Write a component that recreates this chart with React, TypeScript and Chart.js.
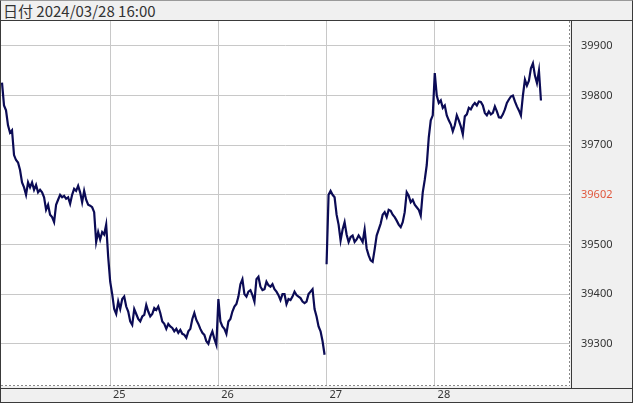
import React, { useEffect, useRef } from 'react';
import { Chart, registerables } from 'chart.js';

Chart.register(...registerables);

// Price samples (evenly spaced bars), one array per trading session
const fri22 = [
  39826, 39780, 39770, 39740, 39725, 39730, 39680, 39670, 39665, 39650,
  39625, 39615, 39600, 39625, 39615, 39625, 39610, 39620, 39605, 39610,
  39605, 39595, 39570, 39580, 39560, 39555, 39545, 39580, 39590, 39600,
  39595, 39598, 39592, 39595, 39582, 39600, 39612, 39608, 39618, 39605,
  39585, 39608, 39590, 39580, 39578, 39575, 39565, 39505, 39525, 39510,
  39525, 39520, 39540, 39475,
];
const mon25 = [
  39425, 39400, 39370, 39360, 39385, 39370, 39390, 39395, 39375, 39365,
  39345, 39338, 39370, 39360, 39350, 39345, 39355, 39358, 39378, 39365,
  39355, 39360, 39372, 39368, 39375, 39362, 39345, 39340, 39330, 39340,
  39335, 39332, 39325, 39330, 39322, 39328, 39320, 39318, 39312, 39325,
  39330, 39350, 39362, 39348, 39340, 39330, 39322, 39318, 39305, 39300,
  39315, 39325, 39310, 39298,
];
const tue26 = [
  39390, 39345, 39335, 39330, 39320, 39345, 39350, 39365, 39375, 39380,
  39395, 39420, 39430, 39400, 39395, 39405, 39408, 39398, 39385, 39430,
  39435, 39415, 39408, 39410, 39425, 39418, 39415, 39420, 39410, 39405,
  39398, 39388, 39400, 39400, 39380, 39390, 39388, 39395, 39405, 39398,
  39395, 39392, 39385, 39382, 39385, 39400, 39405, 39410, 39370, 39355,
  39335, 39325, 39305, 39278,
];
const wed27 = [
  39460, 39600, 39608, 39600, 39595, 39560, 39540, 39508, 39530, 39545,
  39520, 39505, 39515, 39518, 39505, 39510, 39518, 39512, 39505, 39530,
  39492, 39478, 39468, 39465, 39490, 39518, 39530, 39542, 39560, 39565,
  39555, 39570, 39568, 39560, 39555, 39548, 39540, 39535, 39545, 39565,
  39605, 39598, 39585, 39590, 39580, 39575, 39570, 39558, 39605, 39630,
  39660, 39715, 39750, 39760,
];
const thu28 = [
  39845, 39800, 39785, 39790, 39775, 39780, 39760, 39750, 39742, 39728,
  39740, 39760, 39750, 39738, 39722, 39758, 39762, 39775, 39772, 39780,
  39785, 39780, 39788, 39787, 39780, 39765, 39760, 39768, 39762, 39765,
  39778, 39768, 39756, 39755, 39762, 39772, 39785, 39792, 39798, 39800,
  39788, 39778, 39770, 39760, 39800, 39832, 39820, 39830, 39855, 39865,
  39840, 39825, 39850, 39790,
];

const dayLabels = ['25', '26', '27', '28'];
const yTicks = [39300, 39400, 39500, 39600, 39700, 39800, 39900];
const markedTick = 39600;
const markedLabel = '39602';
const headerText = '日付 2024/03/28 16:00';

const sessions = [fri22, mon25, tue26, wed27, thu28];

export default function App() {
  const ref = useRef<HTMLCanvasElement | null>(null);

  useEffect(() => {
    if (!ref.current) return;
    const dayStarts: number[] = [];
    const datasets: any[] = [];
    let k = 0;
    sessions.forEach((s, i) => {
      if (i > 0) dayStarts.push(k);
      const pts: { x: number; y: number }[] = [];
      s.forEach((v) => pts.push({ x: k++, y: v }));
      // Wednesday opened with a gap: draw it as its own stroke
      const joinPrev = i > 0 && i !== 3;
      if (joinPrev) {
        const prev = datasets[datasets.length - 1].data;
        datasets[datasets.length - 1].data = prev.concat(pts);
      } else {
        datasets.push({
          data: pts,
          borderColor: '#0b0b55',
          borderWidth: 2.2,
          pointRadius: 0,
          tension: 0,
        });
      }
    });

    const framePlugin = {
      id: 'frame',
      beforeDraw(chart: any) {
        const { ctx, chartArea: ca } = chart;
        ctx.save();
        ctx.fillStyle = '#ffffff';
        ctx.fillRect(ca.left, ca.top, ca.right - ca.left, ca.bottom - ca.top);
        ctx.restore();
      },
      afterDraw(chart: any) {
        const { ctx, chartArea: ca, width } = chart;
        ctx.save();
        ctx.lineWidth = 1;
        ctx.strokeStyle = '#8a8a8a';
        ctx.setLineDash([2, 2]);
        ctx.beginPath();
        ctx.moveTo(ca.right - 0.5, ca.top);
        ctx.lineTo(ca.right - 0.5, ca.bottom);
        ctx.moveTo(ca.left, ca.bottom - 0.5);
        ctx.lineTo(ca.right, ca.bottom - 0.5);
        ctx.stroke();
        ctx.setLineDash([]);
        ctx.strokeStyle = '#3a3a3a';
        ctx.beginPath();
        ctx.moveTo(ca.right + 1.5, 0);
        ctx.lineTo(ca.right + 1.5, ca.bottom + 2);
        ctx.moveTo(0, ca.bottom + 2.5);
        ctx.lineTo(width, ca.bottom + 2.5);
        ctx.stroke();
        ctx.restore();
      },
    };

    const chart = new Chart(ref.current, {
      type: 'line',
      data: { datasets },
      options: {
        animation: false,
        responsive: false,
        parsing: false as any,
        layout: { padding: 0 },
        plugins: {
          legend: { display: false },
          tooltip: { enabled: false },
        },
        scales: {
          x: {
            type: 'linear',
            min: -0.5,
            max: 283.5,
            afterBuildTicks: (scale: any) => {
              scale.ticks = dayStarts.map((v) => ({ value: v }));
            },
            afterFit: (scale: any) => {
              scale.height = 16;
              scale.paddingLeft = 0;
              scale.paddingRight = 0;
            },
            grid: { color: '#c8c8c8', drawTicks: false },
            border: { display: false },
            ticks: {
              align: 'start',
              padding: 2,
              autoSkip: false,
              maxRotation: 0,
              color: '#333333',
              font: { family: 'Noto Sans', size: 11 },
              callback: (v: any) => {
                const i = dayStarts.indexOf(Number(v));
                return i >= 0 ? ' ' + dayLabels[i] : '';
              },
            },
          },
          y: {
            type: 'linear',
            position: 'right',
            min: 39215,
            max: 39950,
            afterBuildTicks: (scale: any) => {
              scale.ticks = yTicks.map((v) => ({ value: v }));
            },
            afterFit: (scale: any) => {
              scale.width = 62;
              scale.paddingTop = 0;
              scale.paddingBottom = 0;
            },
            grid: { color: '#c8c8c8', drawTicks: false },
            border: { display: false },
            ticks: {
              padding: 11,
              color: (c: any) => (c.tick && c.tick.value === markedTick ? '#e0573d' : '#333333'),
              font: { family: 'Noto Sans', size: 11 },
              callback: (v: any) => (Number(v) === markedTick ? markedLabel : String(v)),
            },
          },
        },
      },
      plugins: [framePlugin],
    });
    return () => chart.destroy();
  }, []);

  return (
    <div
      style={{
        position: 'absolute',
        left: 0,
        top: 0,
        width: 633,
        height: 403,
        boxSizing: 'border-box',
        border: '1px solid #3a3a3a',
        borderTopColor: '#9a9a9a',
        background: '#f0f0f0',
        overflow: 'hidden',
      }}
    >
      <div
        style={{
          height: 19,
          borderBottom: '1px solid #3a3a3a',
          fontFamily: '"Noto Sans CJK JP", "Noto Sans", sans-serif',
          fontSize: 15,
          lineHeight: '19px',
          color: '#333333',
          paddingLeft: 2,
          whiteSpace: 'nowrap',
        }}
      >
        {headerText}
      </div>
      <canvas ref={ref} width={631} height={381} style={{ display: 'block', width: 631, height: 381 }} />
    </div>
  );
}
